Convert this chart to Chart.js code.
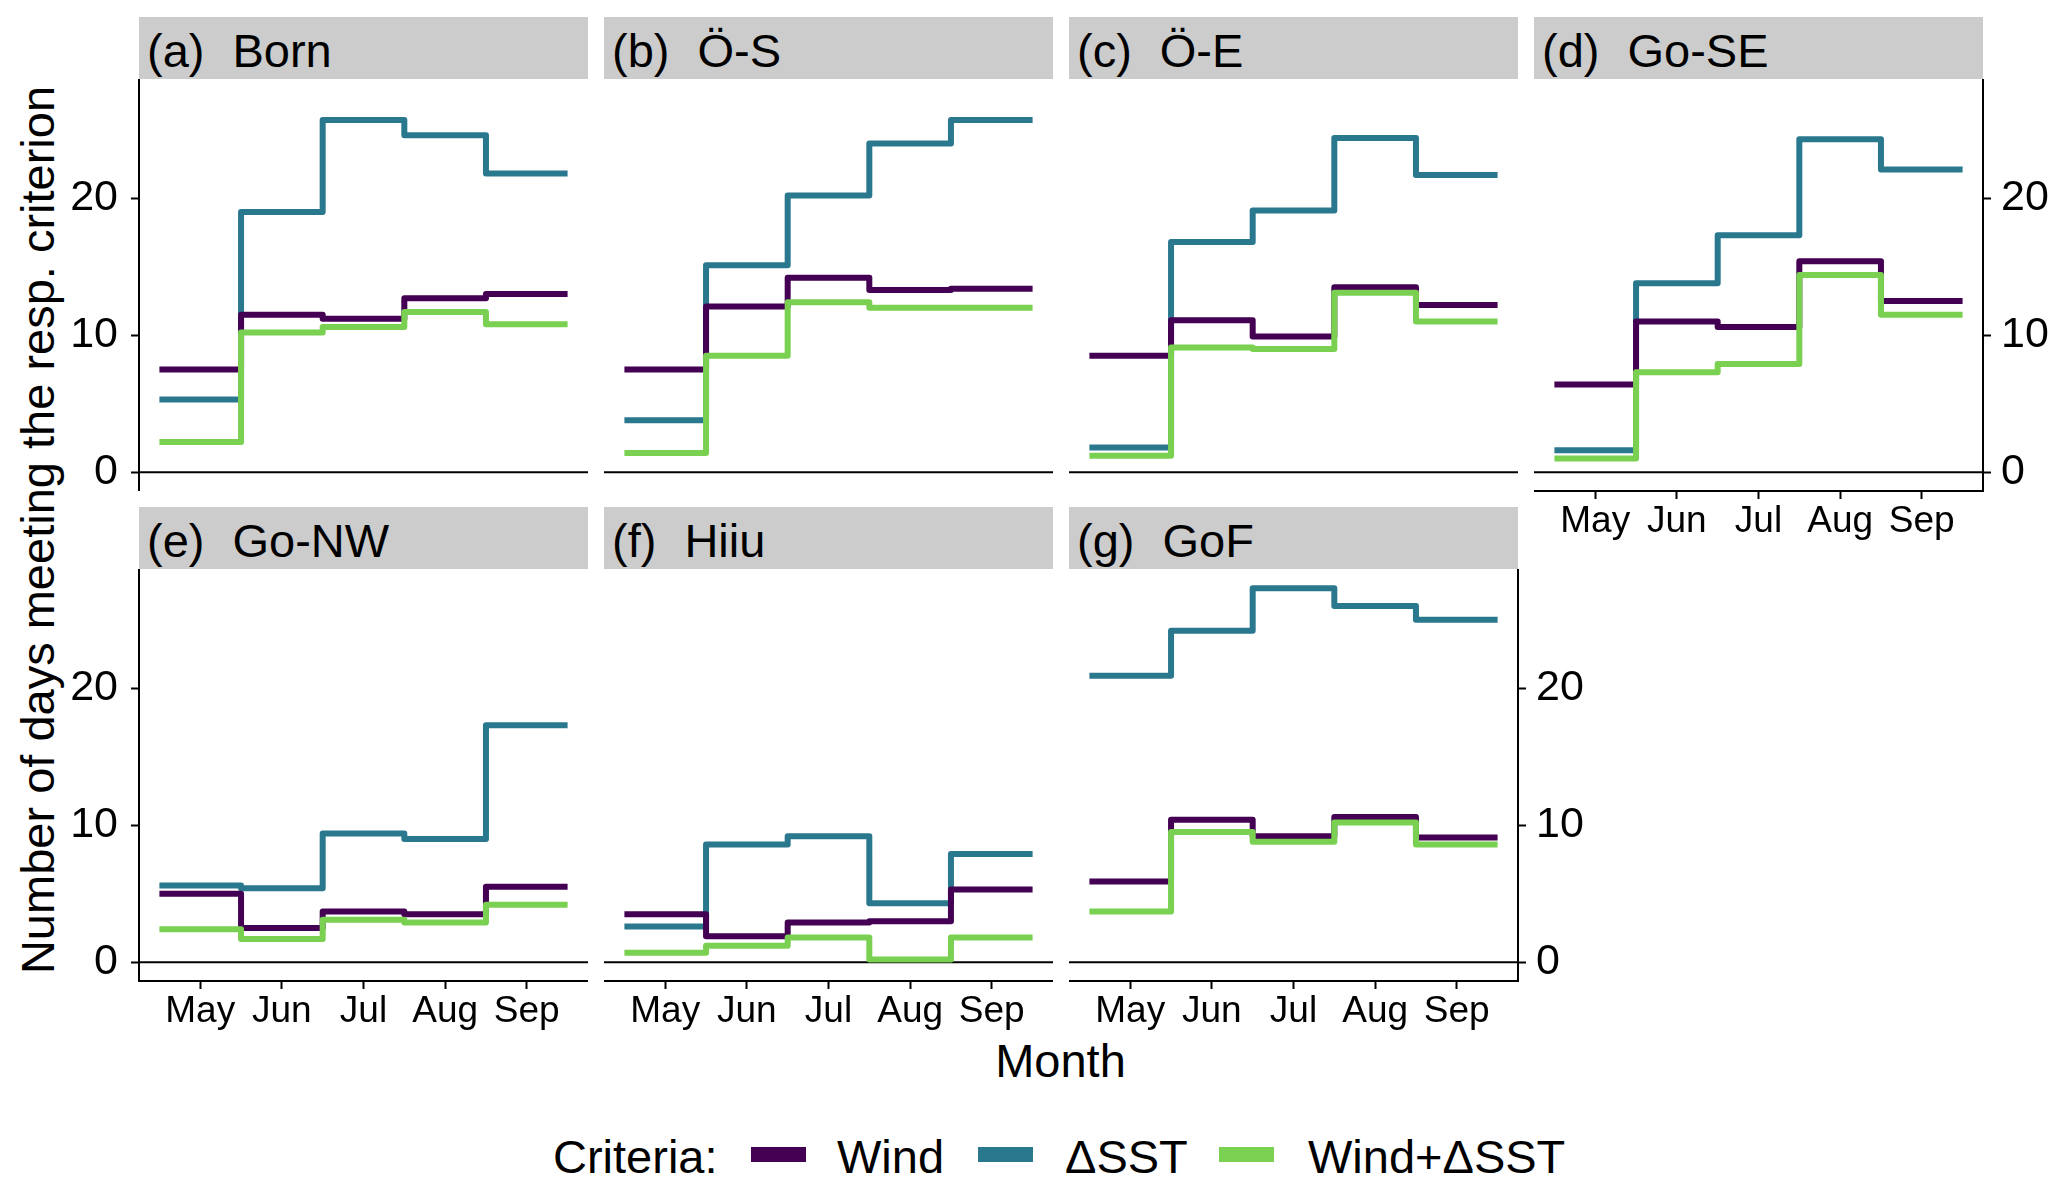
<!DOCTYPE html>
<html>
<head>
<meta charset="utf-8">
<script src="https://cdn.jsdelivr.net/npm/chart.js@4.4.1/dist/chart.umd.min.js"></script>
<style>
  html, body { margin: 0; padding: 0; background: #fff; }
  body { width: 2067px; height: 1191px; position: relative; overflow: hidden;
         font-family: "Liberation Sans", Arial, sans-serif; color: #000; }
  canvas { position: absolute; }
  .strip { position: absolute; background: #cccccc; height: 62px; box-sizing: border-box;
           padding: 10px 0 0 8px; font-size: 47px; line-height: 47px; white-space: nowrap; }
  .strip .name { margin-left: 28px; }
  .txt { position: absolute; font-size: 47px; line-height: 47px; white-space: nowrap; }
  .key { position: absolute; width: 55px; height: 15px; }
</style>
</head>
<body>

<div class="txt" id="ytitle" style="left:37.4px; top:530px; transform: translate(-50%, -50%) rotate(-90deg);">Number of days meeting the resp. criterion</div>
<div class="txt" style="left:1060.5px; top:1037px; transform: translateX(-50%);">Month</div>

<div class="txt" style="left:553px; top:1133px;">Criteria:</div>
<div class="key" style="left:751px; top:1147px; background:#440154;"></div>
<div class="txt" style="left:837px; top:1133px;">Wind</div>
<div class="key" style="left:978px; top:1147px; background:#2A788E;"></div>
<div class="txt" style="left:1065px; top:1133px;">ΔSST</div>
<div class="key" style="left:1219px; top:1147px; background:#7AD151;"></div>
<div class="txt" style="left:1308px; top:1133px;">Wind+ΔSST</div>

<script>
// months on the x axis
const months   = ['May', 'Jun', 'Jul', 'Aug', 'Sep'];
const monthNum = [5, 6, 7, 8, 9];
const yTicks   = [0, 10, 20];

// (a) Born
const windBorn = [7.5, 11.5, 11.2, 12.7, 13.0];
const sstBorn  = [5.3, 19.0, 25.7, 24.6, 21.8];
const bothBorn = [2.2, 10.2, 10.6, 11.7, 10.8];
// (b) Ö-S
const windOS = [7.5, 12.1, 14.2, 13.3, 13.4];
const sstOS  = [3.8, 15.1, 20.2, 24.0, 25.7];
const bothOS = [1.4, 8.5, 12.4, 12.0, 12.0];
// (c) Ö-E
const windOE = [8.5, 11.1, 9.9, 13.5, 12.2];
const sstOE  = [1.8, 16.8, 19.1, 24.4, 21.7];
const bothOE = [1.2, 9.1, 9.0, 13.1, 11.0];
// (d) Go-SE
const windGoSE = [6.4, 11.0, 10.6, 15.4, 12.5];
const sstGoSE  = [1.6, 13.8, 17.3, 24.3, 22.1];
const bothGoSE = [1.0, 7.3, 7.9, 14.4, 11.5];
// (e) Go-NW
const windGoNW = [5.0, 2.5, 3.7, 3.5, 5.5];
const sstGoNW  = [5.6, 5.4, 9.4, 9.0, 17.3];
const bothGoNW = [2.4, 1.7, 3.1, 2.9, 4.2];
// (f) Hiiu
const windHiiu = [3.5, 1.9, 2.9, 3.0, 5.3];
const sstHiiu  = [2.6, 8.6, 9.2, 4.3, 7.9];
const bothHiiu = [0.7, 1.2, 1.8, 0.2, 1.8];
// (g) GoF
const windGoF = [5.9, 10.4, 9.2, 10.6, 9.1];
const sstGoF  = [20.9, 24.2, 27.3, 26.0, 25.0];
const bothGoF = [3.7, 9.5, 8.8, 10.2, 8.6];

const colWind = '#440154';
const colSST  = '#2A788E';
const colBoth = '#7AD151';

Chart.defaults.font.family = '"Liberation Sans", Arial, sans-serif';
Chart.defaults.color = '#000';

const COLS = [139, 604, 1069, 1534];
const ROWS = [79, 569];
const PW = 449, PH = 412;
const AXW = 80, AXH = 60;

const panels = [
  { tag: '(a)', name: 'Born',  col: 0, row: 0, axis: 'left',  xAxis: false, wind: windBorn, sst: sstBorn, both: bothBorn },
  { tag: '(b)', name: 'Ö-S',   col: 1, row: 0, axis: 'none',  xAxis: false, wind: windOS,   sst: sstOS,   both: bothOS },
  { tag: '(c)', name: 'Ö-E',   col: 2, row: 0, axis: 'none',  xAxis: false, wind: windOE,   sst: sstOE,   both: bothOE },
  { tag: '(d)', name: 'Go-SE', col: 3, row: 0, axis: 'right', xAxis: true,  wind: windGoSE, sst: sstGoSE, both: bothGoSE },
  { tag: '(e)', name: 'Go-NW', col: 0, row: 1, axis: 'left',  xAxis: true,  wind: windGoNW, sst: sstGoNW, both: bothGoNW },
  { tag: '(f)', name: 'Hiiu',  col: 1, row: 1, axis: 'none',  xAxis: true,  wind: windHiiu, sst: sstHiiu, both: bothHiiu },
  { tag: '(g)', name: 'GoF',   col: 2, row: 1, axis: 'right', xAxis: true,  wind: windGoF,  sst: sstGoF,  both: bothGoF }
];

// each monthly value is held from mid-month-before to mid-month-after
function stepPoints(values) {
  const pts = values.map((v, i) => ({ x: monthNum[i] - 0.5, y: v }));
  pts.push({ x: monthNum[monthNum.length - 1] + 0.5, y: values[values.length - 1] });
  return pts;
}

function lineSet(label, values, color, order) {
  return {
    label: label,
    data: stepPoints(values),
    borderColor: color,
    backgroundColor: color,
    borderWidth: 6,
    borderJoinStyle: 'round',
    borderCapStyle: 'butt',
    stepped: 'before',
    pointRadius: 0,
    fill: false,
    order: order
  };
}

const zeroLine = {
  id: 'zeroLine',
  beforeDatasetsDraw(chart) {
    const { ctx, chartArea, scales } = chart;
    const y = scales.y.getPixelForValue(0);
    ctx.save();
    ctx.strokeStyle = '#000';
    ctx.lineWidth = 2;
    ctx.beginPath();
    ctx.moveTo(chartArea.left, y);
    ctx.lineTo(chartArea.right, y);
    ctx.stroke();
    ctx.restore();
  }
};

const axisGrid = { display: true, drawOnChartArea: false, tickLength: 8, tickWidth: 2, tickColor: '#000' };
const axisBorder = { display: true, color: '#000', width: 2 };

panels.forEach(p => {
  const left = COLS[p.col], top = ROWS[p.row];

  const strip = document.createElement('div');
  strip.className = 'strip';
  strip.style.left = left + 'px';
  strip.style.top = (top - 62) + 'px';
  strip.style.width = PW + 'px';
  strip.innerHTML = '<span>' + p.tag + '</span><span class="name">' + p.name + '</span>';
  document.body.appendChild(strip);

  const hasLeft = p.axis === 'left', hasRight = p.axis === 'right';
  const hasY = hasLeft || hasRight;
  const lx = hasLeft ? AXW : 0, rx = hasRight ? AXW : 0, bx = p.xAxis ? AXH : 0;
  const canvas = document.createElement('canvas');
  canvas.width = PW + lx + rx;
  canvas.height = PH + bx;
  canvas.style.left = (left - lx) + 'px';
  canvas.style.top = top + 'px';
  document.body.appendChild(canvas);

  new Chart(canvas, {
    type: 'line',
    data: {
      datasets: [
        lineSet('Wind', p.wind, colWind, 2),
        lineSet('ΔSST', p.sst, colSST, 3),
        lineSet('Wind+ΔSST', p.both, colBoth, 1)
      ]
    },
    options: {
      responsive: false,
      animation: false,
      events: [],
      layout: { padding: 0, autoPadding: false },
      plugins: { legend: { display: false }, tooltip: { enabled: false } },
      scales: {
        x: {
          type: 'linear',
          bounds: 'data',
          min: 4.25,
          max: 9.75,
          display: p.xAxis,
          afterBuildTicks: s => { s.ticks = monthNum.map(v => ({ value: v })); },
          afterFit: s => { s.height = bx; s.paddingLeft = 0; s.paddingRight = 0; },
          ticks: {
            callback: v => months[monthNum.indexOf(v)],
            font: { size: 37 },
            color: '#000',
            padding: 1,
            maxRotation: 0,
            autoSkip: false
          },
          grid: axisGrid,
          border: axisBorder
        },
        y: {
          type: 'linear',
          bounds: 'data',
          position: hasRight ? 'right' : 'left',
          min: -1.37,
          max: 28.7,
          display: hasY,
          afterBuildTicks: s => { s.ticks = yTicks.map(v => ({ value: v })); },
          afterFit: s => { s.width = hasY ? AXW : 0; s.paddingTop = 0; s.paddingBottom = 0; },
          ticks: {
            font: { size: 43 },
            color: '#000',
            padding: hasRight ? 10 : 13
          },
          grid: axisGrid,
          border: axisBorder
        }
      }
    },
    plugins: [zeroLine]
  });
});
</script>
</body>
</html>
